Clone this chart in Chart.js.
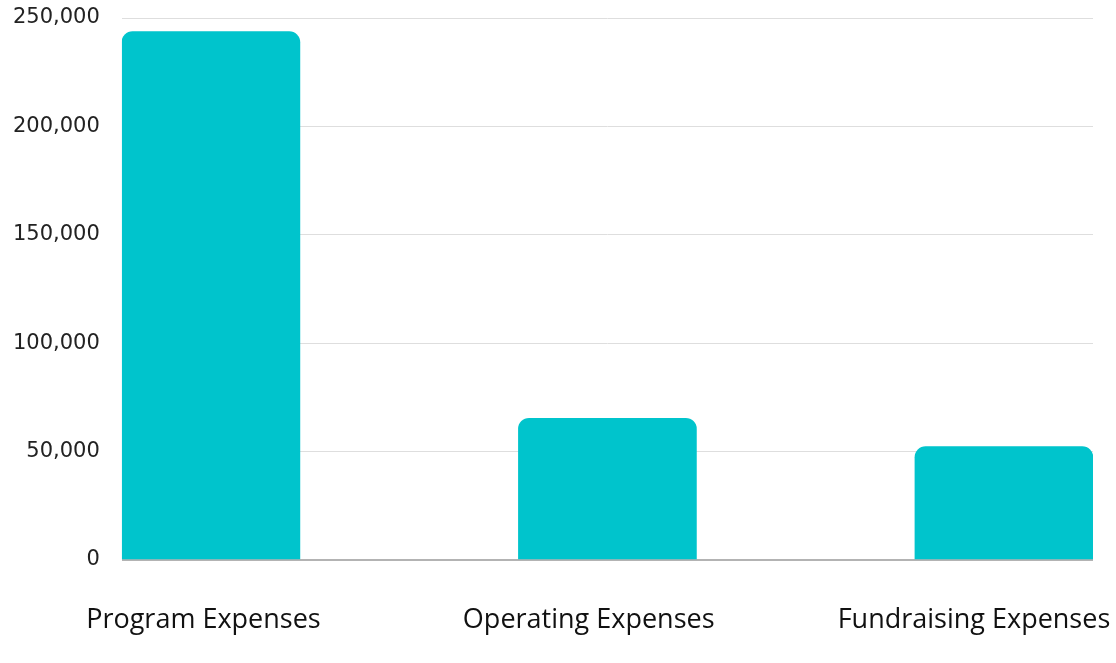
<!DOCTYPE html>
<html lang="en">
<head>
    <meta charset="UTF-8">
    <title>Expenses</title>
    <script src="https://cdn.jsdelivr.net/npm/chart.js@4/dist/chart.umd.min.js"></script>
    <style>
        html, body {
            margin: 0;
            padding: 0;
            background: #ffffff;
        }
        .chart-box {
            width: 1116px;
            height: 663px;
        }
    </style>
</head>
<body>
    <div class="chart-box">
        <canvas id="expenseChart"></canvas>
    </div>

    <script>
        const categories = ['Program Expenses', 'Operating Expenses', 'Fundraising Expenses'];
        const expenses = [243700, 65400, 52300];
        const yTicks = [0, 50000, 100000, 150000, 200000, 250000];

        const teal = '#00C4CC';

        // bars sit on positions 0,1,2 of a linear axis
        const barData = expenses.map((v, i) => ({ x: i, y: v }));

        // chart.js adds tick padding to the side paddings, drop it
        function noSidePadding(scale) {
            scale.paddingLeft = 0;
            scale.paddingRight = 0;
            scale.paddingTop = 0;
            scale.paddingBottom = 0;
        }

        const ctx = document.getElementById('expenseChart').getContext('2d');
        new Chart(ctx, {
            type: 'bar',
            data: {
                datasets: [{
                    data: barData,
                    backgroundColor: teal,
                    borderRadius: 11,
                    borderSkipped: 'bottom',
                    barThickness: 178,
                    xAxisID: 'x',
                    yAxisID: 'y'
                }]
            },
            options: {
                responsive: true,
                maintainAspectRatio: false,
                animation: false,
                layout: {
                    padding: { top: 18, right: 23, bottom: 0, left: 12 }
                },
                plugins: {
                    legend: { display: false },
                    tooltip: { enabled: false }
                },
                scales: {
                    x: {
                        type: 'linear',
                        display: false,
                        offset: false,
                        min: -0.2246,
                        max: 2.2246
                    },
                    labels: {
                        type: 'linear',
                        position: 'bottom',
                        offset: false,
                        min: -0.2118,
                        max: 2.309,
                        afterBuildTicks: (scale) => {
                            scale.ticks = categories.map((c, i) => ({ value: i }));
                        },
                        afterFit: (scale) => {
                            noSidePadding(scale);
                            scale.height = 103;
                        },
                        grid: { display: false, tickLength: 0 },
                        border: { display: false },
                        ticks: {
                            padding: 44,
                            color: '#111111',
                            maxRotation: 0,
                            autoSkip: false,
                            font: { family: '"Open Sans", sans-serif', size: 27 },
                            callback: (value) => categories[value]
                        }
                    },
                    y: {
                        min: 0,
                        max: 250000,
                        afterBuildTicks: (scale) => {
                            scale.ticks = yTicks.map(v => ({ value: v }));
                        },
                        afterFit: (scale) => {
                            noSidePadding(scale);
                            scale.width -= 21;
                        },
                        border: { display: false },
                        grid: {
                            drawTicks: false,
                            color: (c) => c.tick && c.tick.value === 0 ? '#b3b3b3' : '#dedede',
                            lineWidth: (c) => c.tick && c.tick.value === 0 ? 2 : 1
                        },
                        ticks: {
                            padding: 22,
                            color: '#222222',
                            font: { family: '"DejaVu Sans", sans-serif', size: 21 }
                        }
                    }
                }
            }
        });
    </script>
</body>
</html>
